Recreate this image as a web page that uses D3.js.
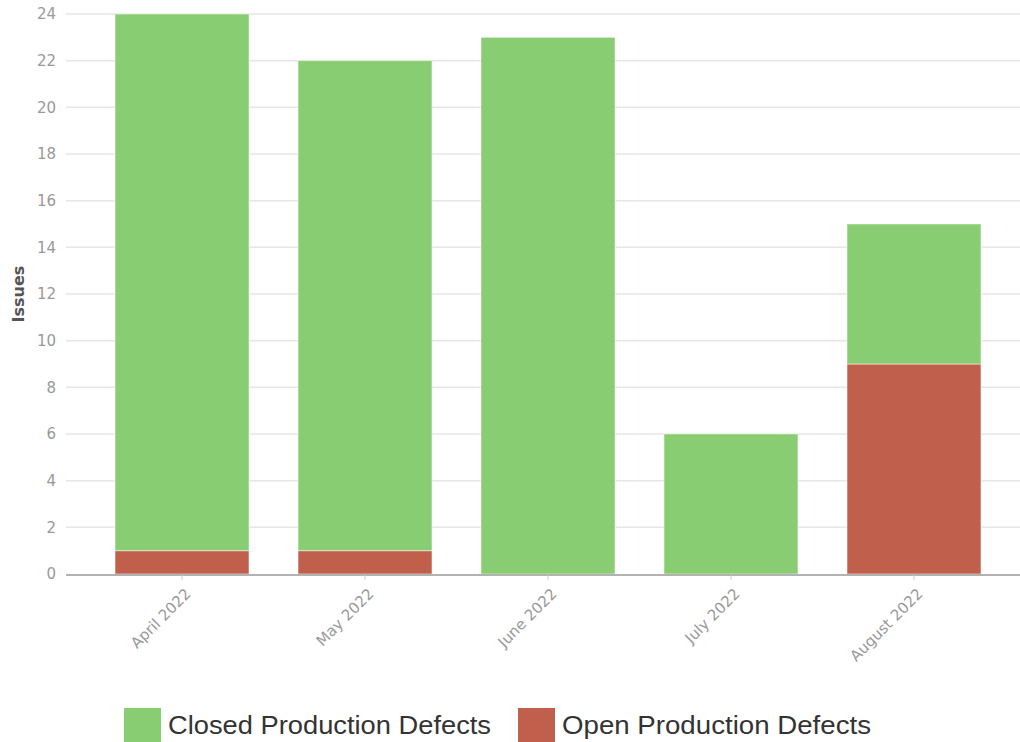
<!DOCTYPE html>
<meta charset="utf-8">
<head>
  <style>
    body { margin: 0; background: #fff; }
    svg { display: block; }
    .tick text { font-family: "DejaVu Sans", sans-serif; }
  </style>
</head>
<body>
<div id="chart"></div>
<script src="https://d3js.org/d3.v7.min.js"></script>
<script>

var months = ["April 2022", "May 2022", "June 2022", "July 2022", "August 2022"];
var closedDefects = [23, 21, 23, 6, 6];
var openDefects = [1, 1, 0, 0, 9];
var seriesNames = ["Closed Production Defects", "Open Production Defects"];
var seriesColors = ["#88cd71", "#c0604c"];
var yTicks = [0, 2, 4, 6, 8, 10, 12, 14, 16, 18, 20, 22, 24];

var W = 1020, H = 742;
var plotLeft = 66, plotTop = 14, plotBottom = 574;

var svg = d3.select("#chart").append("svg")
  .attr("width", W)
  .attr("height", H);

var rows = months.map(function(m, i) {
  return { month: m, open: openDefects[i], closed: closedDefects[i] };
});
var stack = d3.stack().keys(["open", "closed"])(rows);

var x = d3.scaleBand()
  .domain(months)
  .range([plotLeft, 1030])
  .paddingInner(0.268)
  .paddingOuter(0.268);

var y = d3.scaleLinear()
  .domain([0, 24])
  .range([plotBottom, plotTop]);

// grid
svg.append("g")
  .selectAll("line")
  .data(yTicks.slice(1))
  .enter().append("line")
    .attr("x1", plotLeft).attr("x2", W)
    .attr("y1", function(d) { return y(d); })
    .attr("y2", function(d) { return y(d); })
    .attr("stroke", "#e6e6e6")
    .attr("stroke-width", 1.5);

// y axis labels
var yAxis = svg.append("g")
  .attr("transform", "translate(" + plotLeft + ",0)")
  .call(d3.axisLeft(y).tickValues(yTicks).tickSize(0).tickPadding(10));
yAxis.select(".domain").remove();
yAxis.selectAll("text")
  .style("font-size", "15px")
  .attr("fill", "#999");

svg.append("text")
  .attr("transform", "translate(24," + ((plotTop + plotBottom) / 2) + ") rotate(-90)")
  .attr("text-anchor", "middle")
  .style("font-family", "DejaVu Sans, sans-serif")
  .style("font-size", "16px")
  .style("font-weight", "bold")
  .attr("fill", "#555")
  .text("Issues");

// bars
var colorFor = { open: seriesColors[1], closed: seriesColors[0] };
svg.append("g")
  .selectAll("g")
  .data(stack)
  .enter().append("g")
    .attr("fill", function(s) { return colorFor[s.key]; })
  .selectAll("rect")
  .data(function(s) { return s; })
  .enter().append("rect")
    .attr("x", function(d) { return x(d.data.month); })
    .attr("width", x.bandwidth())
    .attr("y", function(d) { return y(d[1]); })
    .attr("height", function(d) { return y(d[0]) - y(d[1]); })
    .attr("stroke", "#ffffff")
    .attr("stroke-opacity", 0.5)
    .attr("stroke-width", 1);

// x axis
var xAxis = svg.append("g")
  .attr("transform", "translate(0," + (plotBottom + 1) + ")")
  .call(d3.axisBottom(x).tickSize(5).tickSizeOuter(0));
xAxis.select(".domain")
  .attr("d", "M" + plotLeft + ",0H" + W)
  .attr("stroke", "#999")
  .attr("stroke-width", 1.5);
xAxis.selectAll(".tick line").attr("stroke", "#ccc");
xAxis.selectAll("text")
  .style("font-size", "15px")
  .attr("fill", "#999")
  .style("text-anchor", "end")
  .attr("y", 0)
  .attr("dy", "0.35em")
  .attr("transform", "translate(6,16) rotate(-45)");

// legend
var legend = svg.append("g");
var legendX = [124, 518];
var legendTextW = [323, 309];
seriesNames.forEach(function(name, i) {
  legend.append("rect")
    .attr("x", legendX[i]).attr("y", 708)
    .attr("width", 37).attr("height", 34)
    .attr("fill", seriesColors[i]);
  legend.append("text")
    .attr("x", legendX[i] + 44).attr("y", 734)
    .attr("textLength", legendTextW[i])
    .attr("lengthAdjust", "spacingAndGlyphs")
    .style("font-family", "Liberation Sans, sans-serif")
    .style("font-size", "26px")
    .attr("fill", "#333")
    .text(name);
});

</script>
</body>
